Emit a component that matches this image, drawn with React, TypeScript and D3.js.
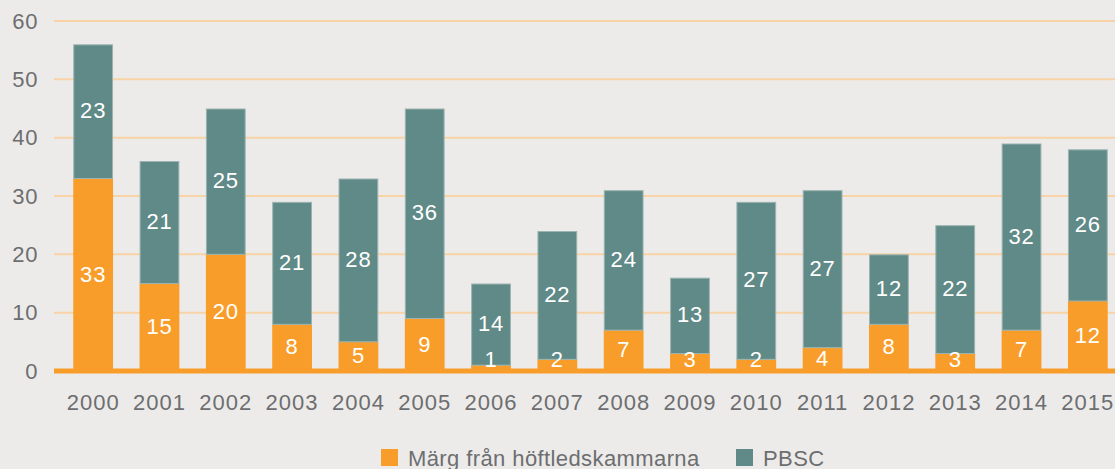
import { useEffect, useRef } from "react";
import * as d3 from "d3";

const years = ["2000", "2001", "2002", "2003", "2004", "2005", "2006", "2007", "2008", "2009", "2010", "2011", "2012", "2013", "2014", "2015"];
const marg = [33, 15, 20, 8, 5, 9, 1, 2, 7, 3, 2, 4, 8, 3, 7, 12];
const pbsc = [23, 21, 25, 21, 28, 36, 14, 22, 24, 13, 27, 27, 12, 22, 32, 26];
const yTicks = [0, 10, 20, 30, 40, 50, 60];
const seriesNames = ["Märg från höftledskammarna", "PBSC"];

const ORANGE = "#f99d2a";
const TEAL = "#5f8a87";
const TEXT = "#6d6e70";
const FONT = "'Liberation Sans', Arial, Helvetica, sans-serif";

export default function App() {
    const svgRef = useRef<SVGSVGElement>(null);

    useEffect(() => {
        if (!svgRef.current) return;
        document.body.style.margin = "0";

        const W = 1115, H = 469;
        const svg = d3.select(svgRef.current);
        svg.selectAll("*").remove();
        svg.attr("width", W).attr("height", H);

        svg.append("rect").attr("width", W).attr("height", H).attr("fill", "#ecebe9");

        const gridLeft = 54;

        const x = d3.scaleBand()
            .domain(years)
            .range([60, 1121])
            .paddingInner(0.4)
            .paddingOuter(0.2);

        const y = d3.scaleLinear().domain([0, 60]).range([371, 21]);

        // Grid
        svg.append("g")
            .selectAll("line")
            .data(yTicks.filter(t => t > 0))
            .enter().append("line")
            .attr("x1", gridLeft).attr("x2", W)
            .attr("y1", d => y(d)).attr("y2", d => y(d))
            .attr("stroke", "#f8d3a6")
            .attr("stroke-width", 2);

        // Y labels
        svg.append("g")
            .selectAll("text")
            .data(yTicks)
            .enter().append("text")
            .attr("x", 38)
            .attr("y", d => y(d) + 2)
            .attr("text-anchor", "end")
            .attr("dominant-baseline", "middle")
            .attr("font-family", FONT)
            .attr("font-size", 22)
            .attr("letter-spacing", "0.6px")
            .attr("fill", TEXT)
            .text(d => d);

        const rows = years.map((yr, i) => ({ yr, a: marg[i], b: pbsc[i] }));

        // Orange segments
        svg.append("g")
            .selectAll("rect")
            .data(rows)
            .enter().append("rect")
            .attr("x", d => x(d.yr)!)
            .attr("width", x.bandwidth())
            .attr("y", d => y(d.a))
            .attr("height", d => y(0) - y(d.a))
            .attr("fill", ORANGE);

        // Teal segments
        svg.append("g")
            .selectAll("rect")
            .data(rows)
            .enter().append("rect")
            .attr("x", d => x(d.yr)! + 0.5)
            .attr("width", x.bandwidth() - 1)
            .attr("y", d => y(d.a + d.b) + 0.5)
            .attr("height", d => y(d.a) - y(d.a + d.b) - 0.5)
            .attr("fill", TEAL)
            .attr("stroke", "#9cb4b1")
            .attr("stroke-width", 1);

        // Baseline
        svg.append("line")
            .attr("x1", gridLeft).attr("x2", W)
            .attr("y1", y(0)).attr("y2", y(0))
            .attr("stroke", ORANGE)
            .attr("stroke-width", 5);

        // Value labels
        const labels = svg.append("g")
            .attr("font-family", FONT)
            .attr("font-size", 22)
            .attr("letter-spacing", "0.8px")
            .attr("fill", "#ffffff")
            .attr("text-anchor", "middle");

        rows.forEach(d => {
            const cx = x(d.yr)! + x.bandwidth() / 2;
            labels.append("text")
                .attr("x", cx)
                .attr("y", Math.min(y(d.a / 2), 360) + 1)
                .attr("dominant-baseline", "middle")
                .text(d.a);
            labels.append("text")
                .attr("x", cx)
                .attr("y", y(d.a + d.b / 2) + 1)
                .attr("dominant-baseline", "middle")
                .text(d.b);
        });

        // X labels
        svg.append("g")
            .selectAll("text")
            .data(years)
            .enter().append("text")
            .attr("x", d => x(d)! + x.bandwidth() / 2)
            .attr("y", 410)
            .attr("text-anchor", "middle")
            .attr("font-family", FONT)
            .attr("font-size", 22)
            .attr("letter-spacing", "1px")
            .attr("fill", TEXT)
            .text(d => d);

        // Legend
        const legend = svg.append("g");
        const legendItems = [
            { name: seriesNames[0], color: ORANGE, x: 381 },
            { name: seriesNames[1], color: TEAL, x: 736 },
        ];
        legendItems.forEach(it => {
            legend.append("rect")
                .attr("x", it.x).attr("y", 449)
                .attr("width", 17).attr("height", 17)
                .attr("fill", it.color);
            legend.append("text")
                .attr("x", it.x + 27)
                .attr("y", 466)
                .attr("font-family", FONT)
                .attr("font-size", 22)
                .attr("letter-spacing", "0.4px")
                .attr("fill", TEXT)
                .text(it.name);
        });
    }, []);

    return <svg ref={svgRef} style={{ display: "block" }}></svg>;
}
